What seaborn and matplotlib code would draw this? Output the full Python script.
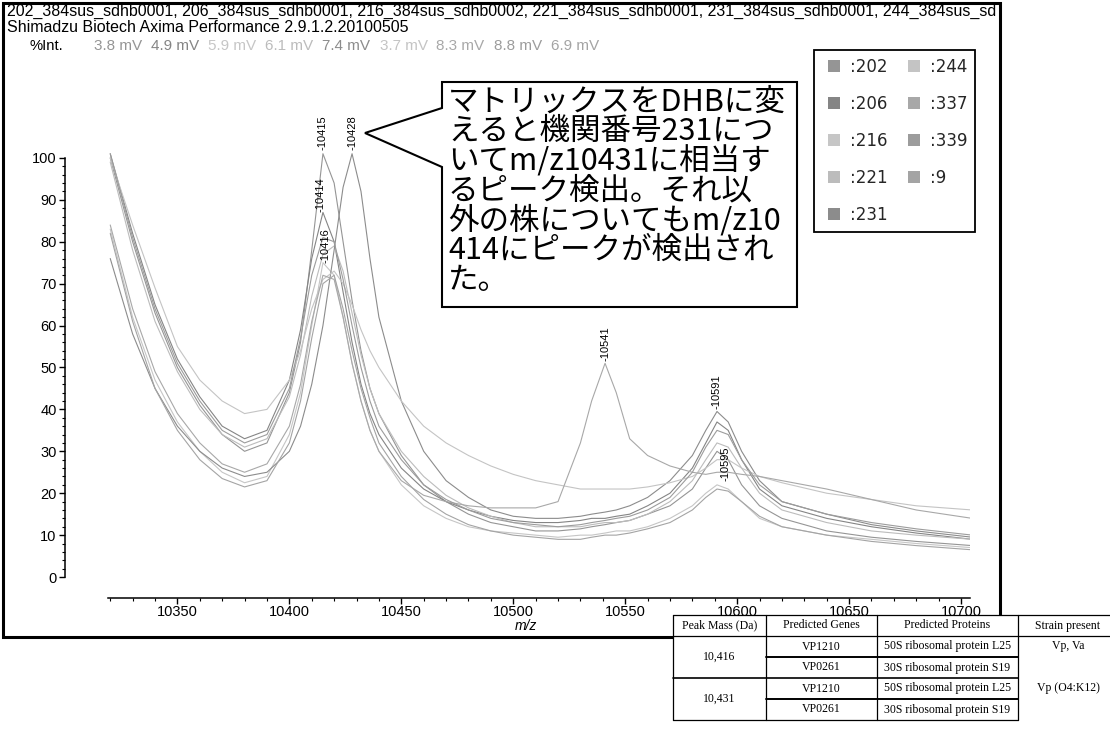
import numpy as np
import pandas as pd
import matplotlib
matplotlib.use("Agg")
import matplotlib.pyplot as plt
import seaborn as sns
from matplotlib.patches import Rectangle, Polygon
from matplotlib.lines import Line2D
from matplotlib.ticker import MultipleLocator, FixedLocator

# ---------------- data ----------------
mz = [10320, 10330, 10340, 10350, 10360, 10370, 10380, 10390, 10400,
      10405, 10410, 10415, 10420, 10424, 10428, 10432, 10436, 10440,
      10450, 10460, 10470, 10480, 10490, 10500, 10510, 10520, 10530,
      10535, 10541, 10546, 10552, 10560, 10570, 10580,
      10586, 10591, 10596, 10602, 10610, 10620,
      10640, 10660, 10680, 10705]

int_202 = [100, 80, 63, 50, 41, 34, 30, 32, 44,
           56, 78, 101, 94, 80, 66, 54, 45, 39,
           29, 22, 18, 15, 13, 12, 11, 11, 11.5,
           12, 12.5, 13, 13.5, 15, 17, 21,
           26, 30, 28, 22, 17, 14,
           11, 9.5, 8.5, 7.5]
int_206 = [101, 82, 65, 52, 43, 36, 33, 35, 47,
           59, 76, 87, 80, 68, 56, 46, 39, 34,
           26, 21, 18, 16, 14.5, 13.5, 13, 13, 13.5,
           14, 14, 14.5, 15, 17, 20, 26,
           32, 37, 35, 28, 21, 17,
           14, 12, 10.5, 9]
int_216 = [83, 62, 47, 37, 30, 25, 22.5, 24, 34,
           44, 60, 75, 72, 62, 51, 42, 35, 30,
           22, 17, 14, 12, 11, 10.5, 10, 9.5, 10,
           10, 10.5, 11, 11, 12, 14, 17,
           20, 22, 21, 18, 14, 12,
           10, 9, 8, 7]
int_221 = [99, 78, 61, 49, 40, 34, 31, 33, 43,
           53, 67, 77, 79, 73, 63, 53, 45, 39,
           30, 24, 19.5, 16.5, 14.5, 13, 12, 12, 12,
           12.5, 13, 13, 13.5, 15, 18, 23,
           28, 32, 31, 26, 20, 16,
           13, 11, 10, 9]
int_231 = [76, 58, 45, 36, 30, 26, 24, 25, 30,
           36, 46, 60, 78, 93, 101, 92, 76, 62,
           42, 30, 23, 19, 16, 14.5, 14, 14, 14.5,
           15, 15.5, 16, 17, 19, 23, 29,
           35, 39.5, 37, 30, 23, 18,
           15, 12.5, 11, 9.5]
int_244 = [100, 84, 69, 55, 47, 42, 39, 40, 47,
           54, 64, 71, 73, 70, 65, 59, 54, 50,
           42, 36, 32, 29, 26.5, 24.5, 23, 22, 21,
           21, 21, 21, 21, 21.5, 22.5, 24,
           26, 28, 28, 26, 24, 22.5,
           20, 18.5, 17, 16]
int_337 = [84, 64, 49, 39, 32, 27, 25, 27, 36,
           46, 61, 72, 71, 62, 51, 42, 35, 30,
           23, 19.5, 18, 17, 16.5, 16.5, 16.5, 18, 32,
           42, 51, 44, 33, 29, 26.5, 25,
           24.5, 25, 25, 24.5, 24, 23,
           21, 18.5, 16, 14]
int_339 = [101, 81, 64, 51, 42, 35, 32, 34, 45,
           57, 72, 81, 80, 71, 60, 50, 42, 36,
           28, 22, 18.5, 16, 14, 13, 12.5, 12, 12.5,
           13, 13.5, 14, 14.5, 16, 19, 25,
           31, 35, 34, 28, 22, 18,
           15, 13, 11.5, 10]
int_9 = [82, 61, 45, 35, 28, 23.5, 21.5, 23, 32,
         42, 57, 70, 72, 64, 54, 45, 38, 32,
         24, 18.5, 15, 12.5, 11, 10, 9.5, 9, 9,
         9.5, 10, 10, 10.5, 11.5, 13, 16,
         19, 21, 20.5, 18, 14.5, 12,
         10, 8.5, 7.5, 6.5]

strains = ["202", "206", "216", "221", "231", "244", "337", "339", "9"]
series = [int_202, int_206, int_216, int_221, int_231, int_244, int_337, int_339, int_9]
colors = ["#959595", "#858585", "#c6c6c6", "#bcbcbc", "#8c8c8c",
          "#c4c4c4", "#a8a8a8", "#9c9c9c", "#a4a4a4"]
mv_labels = ["3.8 mV", "4.9 mV", "5.9 mV", "6.1 mV", "7.4 mV",
             "3.7 mV", "8.3 mV", "8.8 mV", "6.9 mV"]

peak_mz = [10415, 10428, 10414, 10416, 10541, 10591, 10595]
peak_int = [102, 102, 87, 75, 51.5, 40, 23]
peak_text = ["10415", "10428", "10414", "10416", "10541", "10591", "10595"]

x_ticks = [10350, 10400, 10450, 10500, 10550, 10600, 10650, 10700]
y_ticks = [0, 10, 20, 30, 40, 50, 60, 70, 80, 90, 100]

title1 = ("202_384sus_sdhb0001, 206_384sus_sdhb0001, 216_384sus_sdhb0002, "
          "221_384sus_sdhb0001, 231_384sus_sdhb0001, 244_384sus_sd")
title2 = "Shimadzu Biotech Axima Performance 2.9.1.2.20100505"
ylab = "%Int."
note_lines = ["マトリックスをDHBに変", "えると機関番号231につ", "いてm/z10431に相当す",
              "るピーク検出。それ以", "外の株についてもm/z10", "414にピークが検出され", "た。"]

table_header = ["Peak Mass (Da)", "Predicted Genes", "Predicted Proteins", "Strain present"]
peak_mass = ["10,416", "10,431"]
genes = ["VP1210", "VP0261", "VP1210", "VP0261"]
proteins = ["50S ribosomal protein L25", "30S ribosomal protein S19",
            "50S ribosomal protein L25", "30S ribosomal protein S19"]
strain_present = ["Vp, Va", "Vp (O4:K12)"]

# ---------------- figure ----------------
sns.set_theme(style="ticks")
plt.rcParams["font.family"] = ["Liberation Sans", "DejaVu Sans"]

W, H = 1110, 735
fig = plt.figure(figsize=(W / 100, H / 100), dpi=100)
fig.patch.set_facecolor("white")
renderer = fig.canvas.get_renderer()


def fx(px):
    return px / W


def fy(py):
    return 1 - py / H


df = pd.DataFrame({
    "mz": np.tile(mz, len(strains)),
    "intensity": np.concatenate([np.asarray(s, float) for s in series]),
    "strain": np.repeat(strains, len(mz)),
})

ax = fig.add_axes([fx(108), fy(598), (970 - 108) / W, (598 - 116) / H])
ax.set_facecolor("white")
sns.lineplot(data=df, x="mz", y="intensity", hue="strain", hue_order=strains,
             palette=dict(zip(strains, colors)), estimator=None, sort=False,
             legend=False, linewidth=0.8, ax=ax)

ax.set_xlim(10319, 10704)
ax.set_ylim(-5, 110)
ax.set_xticks(x_ticks)
ax.set_xticklabels([str(t) for t in x_ticks])
ax.xaxis.set_minor_locator(MultipleLocator(10))
ax.set_yticks(y_ticks)
ax.set_yticklabels([str(t) for t in y_ticks])
ax.yaxis.set_minor_locator(FixedLocator(np.arange(0, 101, 2)))
for s in ["top", "right"]:
    ax.spines[s].set_visible(False)
for s in ["left", "bottom"]:
    ax.spines[s].set_color("black")
    ax.spines[s].set_linewidth(1.1)
ax.spines["left"].set_position(("outward", 31))
ax.spines["left"].set_bounds(0, 100)
ax.tick_params(axis="both", which="major", direction="out", length=4.5, width=1,
               labelsize=10.5, colors="black")
ax.tick_params(axis="both", which="minor", direction="out", length=2.5, width=0.8,
               colors="black")
ax.tick_params(axis="y", pad=1.5)
ax.tick_params(axis="x", pad=0.5)
ax.set_xlabel("m/z", fontstyle="italic", fontsize=10, color="black")
ax.xaxis.set_label_coords(0.485, (598 - 619) / (598 - 116))
ax.set_ylabel("")
ax.grid(False)

for xm, yi, tx in zip(peak_mz, peak_int, peak_text):
    ax.text(xm, yi, "-" + tx, rotation=90, ha="center", va="bottom",
            fontsize=8, color="black")

# outer frame
fig.add_artist(Rectangle((fx(3), fy(637)), (1000 - 3) / W, (637 - 3) / H,
                         transform=fig.transFigure, fill=False,
                         edgecolor="black", linewidth=2.2, zorder=1))

# header texts
t1 = fig.text(fx(7), fy(11), title1, fontsize=11, ha="left", va="center", color="black")
w1 = t1.get_window_extent(renderer=renderer).width
fs = min(12.0, max(9.0, 11 * (997 - 7) / w1))
t1.set_fontsize(fs)
fig.text(fx(7), fy(28), title2, fontsize=fs, ha="left", va="center", color="black")
fig.text(fx(30), fy(46), ylab, fontsize=fs * 0.92, ha="left", va="center", color="black")
xpos = 94
for lab, c in zip(mv_labels, colors):
    tt = fig.text(fx(xpos), fy(46), lab, fontsize=fs * 0.95, ha="left", va="center", color=c)
    xpos += tt.get_window_extent(renderer=renderer).width + 9

# callout box
callout = [(442, 82), (797, 82), (797, 307), (442, 307), (442, 167), (365, 133), (442, 108)]
fig.add_artist(Polygon([(fx(a), fy(b)) for a, b in callout], closed=True,
                       transform=fig.transFigure, facecolor="white",
                       edgecolor="black", linewidth=1.5, zorder=6))
for i, line in enumerate(note_lines):
    fig.text(fx(448), fy(102 + 29.7 * i), line, fontsize=22, ha="left", va="center",
             family=["Noto Sans CJK JP", "DejaVu Sans"], color="black", zorder=7)

# legend
handles = [Line2D([], [], marker="s", linestyle="", markersize=8, color=c,
                  markeredgewidth=0) for c in colors]
leg = fig.legend(handles, [":" + s for s in strains], loc="upper left",
                 bbox_to_anchor=(fx(814), fy(50)), bbox_transform=fig.transFigure,
                 ncol=2, frameon=True, fancybox=False, framealpha=1,
                 prop={"family": "DejaVu Sans", "size": 12},
                 handlelength=1.5, handletextpad=0.2, columnspacing=0.85,
                 labelspacing=1.15, borderpad=0.45, borderaxespad=0)
leg.get_frame().set_edgecolor("black")
leg.get_frame().set_linewidth(1.3)
leg.set_zorder(6)

# table
col_x = [673, 766, 877, 1018, 1125]
row_y = [615, 636, 657, 678, 699, 720]
fig.add_artist(Rectangle((fx(col_x[0]), fy(row_y[-1])), (col_x[-1] - col_x[0]) / W,
                         (row_y[-1] - row_y[0]) / H, transform=fig.transFigure,
                         facecolor="white", edgecolor="none", zorder=8))


def hline(x0, x1, y, lw=0.9):
    fig.add_artist(Line2D([fx(x0), fx(x1)], [fy(y), fy(y)], transform=fig.transFigure,
                          color="black", linewidth=lw, zorder=9))


def vline(x, y0, y1, lw=0.9):
    fig.add_artist(Line2D([fx(x), fx(x)], [fy(y0), fy(y1)], transform=fig.transFigure,
                          color="black", linewidth=lw, zorder=9))


hline(col_x[0], col_x[-1], row_y[0])
hline(col_x[0], col_x[-1], row_y[1])
hline(col_x[1], col_x[3], row_y[2], 1.4)
hline(col_x[0], col_x[3], row_y[3], 1.2)
hline(col_x[1], col_x[3], row_y[4], 1.4)
hline(col_x[0], col_x[3], row_y[5])
for xv in col_x[:4]:
    vline(xv, row_y[0], row_y[-1])

tfont = dict(family="Liberation Serif", fontsize=8.5, color="black",
             ha="center", va="center", zorder=10)
cx = [(col_x[i] + col_x[i + 1]) / 2 for i in range(4)]
cx[3] = col_x[3] + 50
for i, h in enumerate(table_header):
    fig.text(fx(cx[i]), fy((row_y[0] + row_y[1]) / 2), h, **tfont)
for i, pm in enumerate(peak_mass):
    fig.text(fx(cx[0]), fy((row_y[1 + 2 * i] + row_y[3 + 2 * i]) / 2), pm, **tfont)
    fig.text(fx(cx[3]), fy((row_y[1 + 2 * i] + row_y[2 + 2 * i]) / 2), strain_present[i], **tfont)
for i in range(4):
    yc = (row_y[1 + i] + row_y[2 + i]) / 2
    fig.text(fx(cx[1]), fy(yc), genes[i], **tfont)
    fig.text(fx(cx[2]), fy(yc), proteins[i], **tfont)

fig.savefig("out.png", dpi=100, facecolor="white")
